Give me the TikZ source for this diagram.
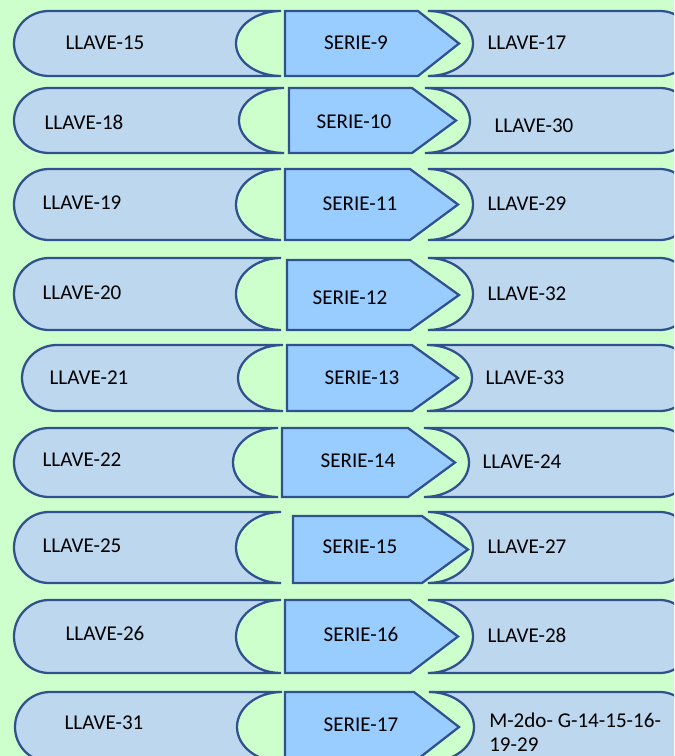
\documentclass[tikz,border=0pt]{standalone}
\usepackage{fontspec}
\setmainfont{Carlito}
\definecolor{fondo}{HTML}{CCFFCC}
\definecolor{celeste}{HTML}{BDD7EE}
\definecolor{azul}{HTML}{99CCFF}
\definecolor{borde}{HTML}{2F528F}

\begin{document}
\begin{tikzpicture}[x=0.75pt,y=0.75pt,
        llave/.style = {draw=borde, fill=celeste, line width=1.7pt},
        serie/.style = {draw=borde, fill=azul, line width=1.7pt, line join=miter},
        txt/.style = {font=\fontsize{15.8}{19}\selectfont, inner sep=0pt}]
        \clip (0,0) rectangle (674,-756);
        \fill[fondo] (0,0) rectangle (674,-756);
        % fila 1
        \draw[llave] (281,-11) -- (49,-11) arc[start angle=90, end angle=270, x radius=35, y radius=32.5] -- (281,-76) arc[start angle=270, end angle=90, x radius=45, y radius=32.5] -- cycle;
        \draw[serie] (285,-11) -- (418,-11) -- (459,-43.5) -- (418,-76) -- (285,-76) -- cycle;
        \draw[llave] (428,-11) -- (660,-11) arc[start angle=90, end angle=-90, x radius=33, y radius=32.5] -- (428,-76) arc[start angle=-90, end angle=90, x radius=45, y radius=32.5] -- cycle;
        \node[txt] (l15) at (105,-43) {LLAVE-15};
        \node[txt] (s9) at (356,-43) {SERIE-9};
        \node[txt] (l17) at (527,-43) {LLAVE-17};
        % fila 2
        \draw[llave] (284,-88) -- (49,-88) arc[start angle=90, end angle=270, x radius=35, y radius=32.5] -- (284,-153) arc[start angle=270, end angle=90, x radius=45, y radius=32.5] -- cycle;
        \draw[serie] (289,-88) -- (412,-88) -- (456,-120.5) -- (412,-153) -- (289,-153) -- cycle;
        \draw[llave] (425,-88) -- (660,-88) arc[start angle=90, end angle=-90, x radius=33, y radius=32.5] -- (425,-153) arc[start angle=-90, end angle=90, x radius=45, y radius=32.5] -- cycle;
        \node[txt] (l18) at (84,-122) {LLAVE-18};
        \node[txt] (s10) at (354,-122) {SERIE-10};
        \node[txt] (l30) at (534,-126) {LLAVE-30};
        % fila 3
        \draw[llave] (281,-169) -- (49,-169) arc[start angle=90, end angle=270, x radius=35, y radius=35.5] -- (281,-240) arc[start angle=270, end angle=90, x radius=45, y radius=35.5] -- cycle;
        \draw[serie] (285,-169) -- (410,-169) -- (458,-204.5) -- (410,-240) -- (285,-240) -- cycle;
        \draw[llave] (428,-169) -- (660,-169) arc[start angle=90, end angle=-90, x radius=33, y radius=35.5] -- (428,-240) arc[start angle=-90, end angle=90, x radius=45, y radius=35.5] -- cycle;
        \node[txt] (l19) at (82,-203) {LLAVE-19};
        \node[txt] (s11) at (360,-204) {SERIE-11};
        \node[txt] (l29) at (527,-204) {LLAVE-29};
        % fila 4
        \draw[llave] (281,-258) -- (49,-258) arc[start angle=90, end angle=270, x radius=35, y radius=36] -- (281,-330) arc[start angle=270, end angle=90, x radius=45, y radius=36] -- cycle;
        \draw[serie] (287,-260) -- (410,-260) -- (459,-295) -- (410,-330) -- (287,-330) -- cycle;
        \draw[llave] (428,-258) -- (660,-258) arc[start angle=90, end angle=-90, x radius=33, y radius=36] -- (428,-330) arc[start angle=-90, end angle=90, x radius=45, y radius=36] -- cycle;
        \node[txt] (l20) at (82,-293) {LLAVE-20};
        \node[txt] (s12) at (350,-298) {SERIE-12};
        \node[txt] (l32) at (527,-294) {LLAVE-32};
        % fila 5
        \draw[llave] (283,-345) -- (57,-345) arc[start angle=90, end angle=270, x radius=35, y radius=33] -- (283,-411) arc[start angle=270, end angle=90, x radius=45, y radius=33] -- cycle;
        \draw[serie] (287,-345) -- (412,-345) -- (458,-378) -- (412,-411) -- (287,-411) -- cycle;
        \draw[llave] (427,-345) -- (660,-345) arc[start angle=90, end angle=-90, x radius=33, y radius=33] -- (427,-411) arc[start angle=-90, end angle=90, x radius=45, y radius=33] -- cycle;
        \node[txt] (l21) at (89,-378) {LLAVE-21};
        \node[txt] (s13) at (362,-378) {SERIE-13};
        \node[txt] (l33) at (525,-378) {LLAVE-33};
        % fila 6
        \draw[llave] (278,-428) -- (49,-428) arc[start angle=90, end angle=270, x radius=35, y radius=34.5] -- (278,-497) arc[start angle=270, end angle=90, x radius=45, y radius=34.5] -- cycle;
        \draw[serie] (282,-428) -- (408,-428) -- (455,-462.5) -- (408,-497) -- (282,-497) -- cycle;
        \draw[llave] (424,-428) -- (660,-428) arc[start angle=90, end angle=-90, x radius=33, y radius=34.5] -- (424,-497) arc[start angle=-90, end angle=90, x radius=45, y radius=34.5] -- cycle;
        \node[txt] (l22) at (82,-460) {LLAVE-22};
        \node[txt] (s14) at (358,-461) {SERIE-14};
        \node[txt] (l24) at (522,-462) {LLAVE-24};
        % fila 7
        \draw[llave] (281,-512) -- (49,-512) arc[start angle=90, end angle=270, x radius=35, y radius=35.5] -- (281,-583) arc[start angle=270, end angle=90, x radius=45, y radius=35.5] -- cycle;
        \draw[serie] (293,-516) -- (422,-516) -- (468,-549.5) -- (422,-583) -- (293,-583) -- cycle;
        \draw[llave] (428,-512) -- (660,-512) arc[start angle=90, end angle=-90, x radius=33, y radius=35.5] -- (428,-583) arc[start angle=-90, end angle=90, x radius=45, y radius=35.5] -- cycle;
        \node[txt] (l25) at (82,-546) {LLAVE-25};
        \node[txt] (s15) at (360,-547) {SERIE-15};
        \node[txt] (l27) at (527,-547) {LLAVE-27};
        % fila 8
        \draw[llave] (281,-600) -- (49,-600) arc[start angle=90, end angle=270, x radius=35, y radius=36.5] -- (281,-673) arc[start angle=270, end angle=90, x radius=45, y radius=36.5] -- cycle;
        \draw[serie] (285,-600) -- (410,-600) -- (458,-636.5) -- (410,-673) -- (285,-673) -- cycle;
        \draw[llave] (428,-600) -- (660,-600) arc[start angle=90, end angle=-90, x radius=33, y radius=36.5] -- (428,-673) arc[start angle=-90, end angle=90, x radius=45, y radius=36.5] -- cycle;
        \node[txt] (l26) at (105,-633) {LLAVE-26};
        \node[txt] (s16) at (361,-634) {SERIE-16};
        \node[txt] (l28) at (527,-635) {LLAVE-28};
        % fila 9
        \draw[llave] (282,-692) -- (50,-692) arc[start angle=90, end angle=270, x radius=35, y radius=35] -- (282,-762) arc[start angle=270, end angle=90, x radius=45, y radius=35] -- cycle;
        \draw[serie] (285,-692) -- (414,-692) -- (459,-727) -- (414,-762) -- (285,-762) -- cycle;
        \draw[llave] (429,-692) -- (660,-692) arc[start angle=90, end angle=-90, x radius=33, y radius=35] -- (429,-762) arc[start angle=-90, end angle=90, x radius=45, y radius=35] -- cycle;
        \node[txt] (l31) at (104,-723) {LLAVE-31};
        \node[txt] (s17) at (361,-725) {SERIE-17};
        \node[txt, anchor=west, align=left, font=\fontsize{15.8}{18}\selectfont] (m2) at (489,-732) {M-2do- G-14-15-16-\\19-29};
\end{tikzpicture}
\end{document}
